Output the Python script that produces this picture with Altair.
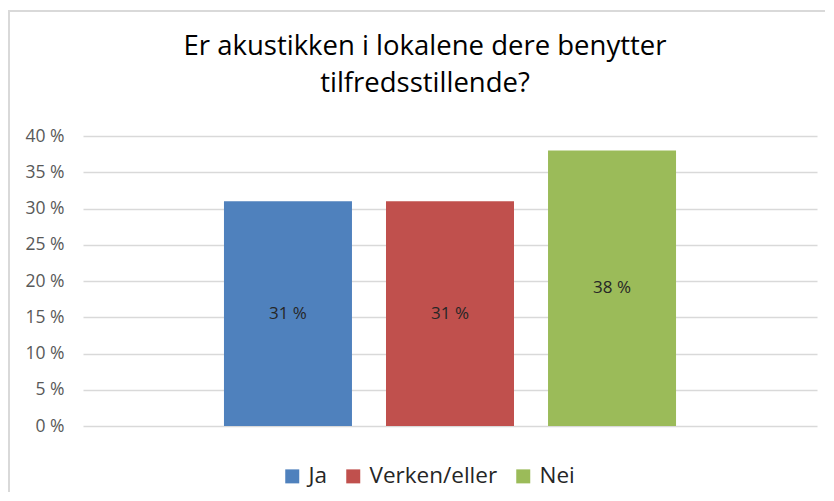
import altair as alt
import pandas as pd

categories = ["Ja", "Verken/eller", "Nei"]
values = [31, 31, 38]
colors = ["#4F81BD", "#C0504D", "#9BBB59"]
y_ticks = [0, 5, 10, 15, 20, 25, 30, 35, 40]
title_lines = ["Er akustikken i lokalene dere benytter", "tilfredsstillende?"]

df = pd.DataFrame({"kategori": categories, "verdi": values})

FONT = "Open Sans"

x_enc = alt.X("kategori:N", sort=categories,
              scale=alt.Scale(paddingInner=0.21, paddingOuter=0.87), axis=None)

y_scale = alt.Scale(domain=[0, 40], nice=False)
y_axis = alt.Axis(values=y_ticks, labelExpr="datum.value + ' %'",
                  grid=True, gridColor="#d9d9d9", gridWidth=1.5,
                  domain=False, ticks=False, labelPadding=19,
                  labelOverlap=False,
                  labelFont=FONT, labelFontSize=17.5, labelColor="#595959",
                  title=None)

bars = alt.Chart(df).mark_bar().encode(
    x=x_enc,
    y=alt.Y("verdi:Q", scale=y_scale, axis=y_axis),
    color=alt.Color("kategori:N", scale=alt.Scale(domain=categories, range=colors),
                    legend=alt.Legend(title=None, orient="none", legendX=198, legendY=329,
                                      direction="horizontal", symbolType="square",
                                      symbolSize=196, symbolStrokeWidth=0,
                                      labelFont=FONT, labelFontSize=22.5,
                                      labelColor="#262626", labelOffset=5,
                                      columnPadding=14)),
)

labels = alt.Chart(df).transform_calculate(
    mid="datum.verdi / 2", txt="datum.verdi + ' %'"
).mark_text(font=FONT, fontSize=17, color="#262626").encode(
    x=x_enc,
    y=alt.Y("mid:Q", scale=y_scale, axis=y_axis),
    text="txt:N",
)

frame_df = pd.DataFrame({"a": [0]})
top_line = alt.Chart(frame_df).mark_rule(color="#d9d9d9", strokeWidth=2).encode(
    x=alt.value(-74), x2=alt.value(760), y=alt.value(-125))
left_line = alt.Chart(frame_df).mark_rule(color="#d9d9d9", strokeWidth=2).encode(
    x=alt.value(-74), y=alt.value(-126), y2=alt.value(370))

chart = alt.layer(top_line, left_line, bars, labels).properties(
    width=734,
    height=290,
    title=alt.TitleParams(title_lines, font=FONT, fontSize=27.5, fontWeight="normal",
                          color="#000000", lineHeight=37, anchor="middle", dx=-25,
                          baseline="top", offset=0, dy=88),
    autosize=alt.AutoSizeParams(type="none"),
    padding={"left": 75, "top": 128, "right": 8, "bottom": 66},
).configure_view(stroke=None)

chart.save("out.html", embed_options={"renderer": "svg", "actions": False})
